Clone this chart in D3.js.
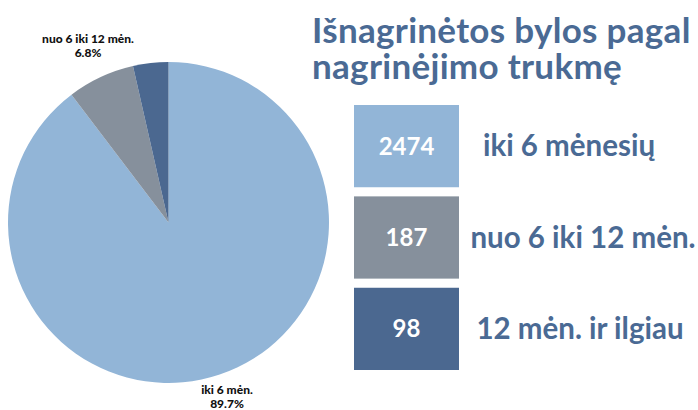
<!DOCTYPE html>
<html><head><meta charset="utf-8">
<script src="https://cdn.jsdelivr.net/npm/d3@7"></script>
<style>body{margin:0;background:#fff}svg{display:block}</style>
</head><body>
<svg id="c" width="698" height="410"></svg>
<script>
const categories = ["iki 6 mėnesių", "nuo 6 iki 12 mėn.", "12 mėn. ir ilgiau"];
const shortLabels = ["iki 6 mėn.", "nuo 6 iki 12 mėn.", null];
const values = [2474, 187, 98];
const colors = ["#92b5d7", "#86909c", "#4b6890"];
const titleLines = ["Išnagrinėtos bylos pagal", "nagrinėjimo trukmę"];

const svg = d3.select("#c");
const total = d3.sum(values);
const cx = 168.5, cy = 222.5, R = 160.5;
const pie = d3.pie().sort(null).value(d => d)(values);
const arc = d3.arc().innerRadius(0).outerRadius(R);
const g = svg.append("g").attr("transform", `translate(${cx},${cy})`);
g.selectAll("path").data(pie).join("path")
  .attr("d", arc).attr("fill", (d, i) => colors[i]);

// pie labels
const labelPos = [[227, 394], [88, 43]];
shortLabels.forEach((lab, i) => {
  if (!lab) return;
  const t = svg.append("text").attr("text-anchor", "middle")
    .attr("font-family", "Lato, sans-serif").attr("font-weight", "900")
    .attr("font-size", 12).attr("fill", "#111");
  t.append("tspan").attr("x", labelPos[i][0]).attr("y", labelPos[i][1]).text(lab);
  t.append("tspan").attr("x", labelPos[i][0]).attr("y", labelPos[i][1] + 14)
    .text(d3.format(".1%")(values[i] / total));
});

// title
titleLines.forEach((l, i) => svg.append("text").attr("font-family", "Lato, sans-serif")
  .attr("font-weight", "bold").attr("font-size", 35).attr("letter-spacing", 0.3)
  .attr("fill", "#4a6a94").attr("x", 312).attr("y", 43 + i * 36).text(l));

// legend
const y = d3.scaleBand().domain(d3.range(values.length)).range([105, 370]).paddingInner(0.1);
const lg = svg.selectAll("g.leg").data(values).join("g").attr("class", "leg");
lg.append("rect").attr("x", 354).attr("y", (d, i) => y(i)).attr("width", 105)
  .attr("height", y.bandwidth()).attr("fill", (d, i) => colors[i]);
lg.append("text").attr("x", 406.5).attr("y", (d, i) => y(i) + y.bandwidth() / 2)
  .attr("dy", "0.35em").attr("text-anchor", "middle")
  .attr("font-family", "Lato, sans-serif").attr("font-weight", "bold")
  .attr("font-size", 24).attr("fill", "#fff").text(d => d);
lg.append("text").attr("x", (d, i) => [569, 583, 580][i]).attr("y", (d, i) => y(i) + y.bandwidth() / 2)
  .attr("dy", "0.35em").attr("text-anchor", "middle")
  .attr("font-family", "Lato, sans-serif").attr("font-weight", "bold")
  .attr("font-size", 29.5).attr("fill", "#4a6a94").text((d, i) => categories[i]);
</script>
</body></html>
